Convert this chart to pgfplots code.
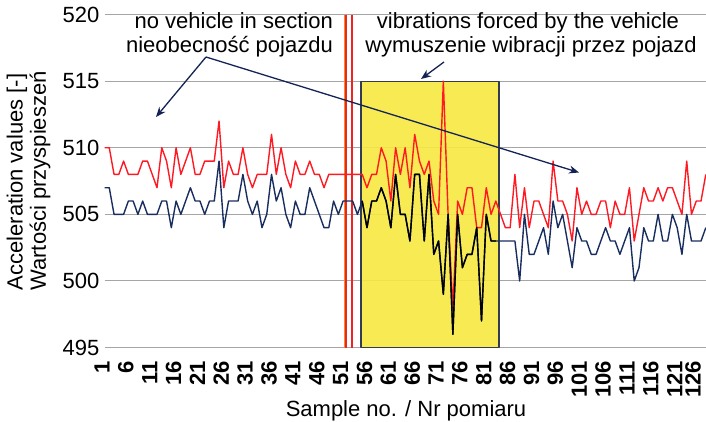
\documentclass[border=0pt]{standalone}
\usepackage{fontspec}
\setmainfont{Liberation Sans}
\usepackage{pgfplots}
\pgfplotsset{compat=1.18}
\usepackage{pgfplotstable}
\usetikzlibrary{arrows.meta}
\definecolor{serred}{RGB}{255,25,35}
\definecolor{sernavy}{RGB}{25,45,95}
\definecolor{gridgray}{RGB}{165,165,165}
\definecolor{boxyellow}{RGB}{246,232,64}
\definecolor{boxedge}{RGB}{50,60,80}
\definecolor{vorange}{RGB}{245,140,30}
\definecolor{vred}{RGB}{240,35,35}
\definecolor{arrownavy}{RGB}{20,35,85}

\pgfplotstableread{
s r b
1 510 507
2 510 507
3 508 505
4 508 505
5 509 505
6 508 506
7 508 506
8 508 505
9 509 506
10 509 505
11 508 505
12 507 505
13 510 506
14 509 506
15 507 504
16 510 506
17 508 505
18 509 506
19 510 507
20 508 506
21 508 506
22 509 505
23 509 506
24 509 506
25 512 509
26 507 504
27 509 506
28 508 506
29 508 506
30 510 508
31 508 506
32 507 505
33 508 506
34 508 504
35 508 505
36 511 508
37 508 506
38 510 507
39 508 505
40 507 504
41 509 506
42 508 505
43 508 505
44 509 507
45 508 506
46 508 505
47 507 504
48 508 504
49 508 506
50 508 505
51 508 506
52 508 506
53 508 506
54 508 505
55 508 506
56 507 504
57 508 506
58 508 506
59 510 507
60 509 506
61 506 504
62 510 508
63 508 505
64 510 505
65 507 503
66 511 508
67 509 508
68 508 503
69 509 508
70 506 502
71 505 503
72 515 499
73 505 505
74 498 496
75 506 505
76 505 501
77 507 502
78 507 502
79 504 504
80 504 497
81 507 505
82 505 503
83 506 503
84 505 503
85 504 503
86 504 503
87 508 503
88 504 500
89 507 505
90 504 502
91 506 502
92 506 503
93 505 504
94 504 502
95 509 506
96 506 504
97 506 505
98 505 503
99 503 501
100 507 504
101 505 503
102 506 503
103 505 502
104 505 502
105 506 503
106 506 504
107 504 503
108 506 503
109 505 502
110 505 503
111 507 504
112 503 500
113 505 501
114 507 504
115 506 503
116 506 503
117 507 505
118 506 503
119 507 503
120 507 505
121 506 504
122 505 502
123 509 505
124 505 503
125 506 503
126 506 503
127 508 504
}\datatable

\begin{document}
\begin{tikzpicture}[font=\fontsize{22}{26}\selectfont]
\useasboundingbox (0,0) rectangle (706pt,421pt);
\begin{axis}[
  at={(104.5pt,73.4pt)}, anchor=south west,
  scale only axis, width=601.3pt, height=333.1pt,
  xmin=1, xmax=127, ymin=495, ymax=520,
  xtick={1,6,...,121}, ytick={495,500,...,520},
  extra x ticks={126},
  extra x tick style={xticklabel style={yshift=5.5pt}, grid=none},
  ymajorgrids, grid style={gridgray, line width=1pt},
  axis line style={draw=none},
  major tick length=0pt,
  tick label style={font=\fontsize{22}{26}\selectfont},
  xticklabel style={xshift=-2.5pt, rotate=90, anchor=east, inner sep=0pt, font=\fontsize{22}{26}\selectfont\bfseries},
  yticklabel style={anchor=east, inner sep=0pt},
  xticklabel shift=13pt, yticklabel shift=5pt,
  /pgf/number format/assume math mode=true,
  line join=round,
]
\addplot[draw=boxedge, line width=1.2pt, fill=boxyellow, fill opacity=0.9] coordinates {(54.75,495) (54.75,515) (83.67,515) (83.67,495)} -- cycle;
\addplot[vorange, line width=1pt] coordinates {(51.25,495) (51.25,520)};
\addplot[vred, line width=2.4pt] coordinates {(51.65,495) (51.65,520)};
\addplot[vred, line width=2.6pt] coordinates {(52.88,495) (52.88,520)};
\addplot[serred, line width=1.4pt] table[x=s,y=r]{\datatable};
\addplot[sernavy, line width=1.4pt] table[x=s,y=b]{\datatable};
\addplot[black, line width=1.4pt, restrict x to domain=55:83] table[x=s,y=b]{\datatable};
\end{axis}
\node[anchor=base east, inner sep=0pt] at (333pt,392pt) {no vehicle in section};
\node[anchor=base east, inner sep=0pt] at (333pt,368pt) {nieobecność pojazdu};
\node[anchor=base, inner sep=0pt] at (528pt,392pt) {vibrations forced by the vehicle};
\node[anchor=base, inner sep=0pt] at (531pt,368pt) {wymuszenie wibracji przez pojazd};
\node[rotate=90, inner sep=0pt] at (17pt,239pt) {Acceleration values [-]};
\node[rotate=90, inner sep=0pt] at (40pt,240pt) {Wartości przyspieszeń};
\node[anchor=base, inner sep=0pt] at (406pt,5pt) {Sample no. / Nr pomiaru};
\draw[arrownavy, line width=1.3pt, -{Stealth[length=10pt,width=8pt]}] (206pt,364pt) -- (156pt,304pt);
\draw[arrownavy, line width=1.3pt, -{Stealth[length=10pt,width=8pt]}] (206pt,364pt) -- (579pt,248.5pt);
\draw[arrownavy, line width=1.3pt, -{Stealth[length=10pt,width=8pt]}] (444pt,359pt) -- (421pt,342pt);
\end{tikzpicture}
\end{document}
